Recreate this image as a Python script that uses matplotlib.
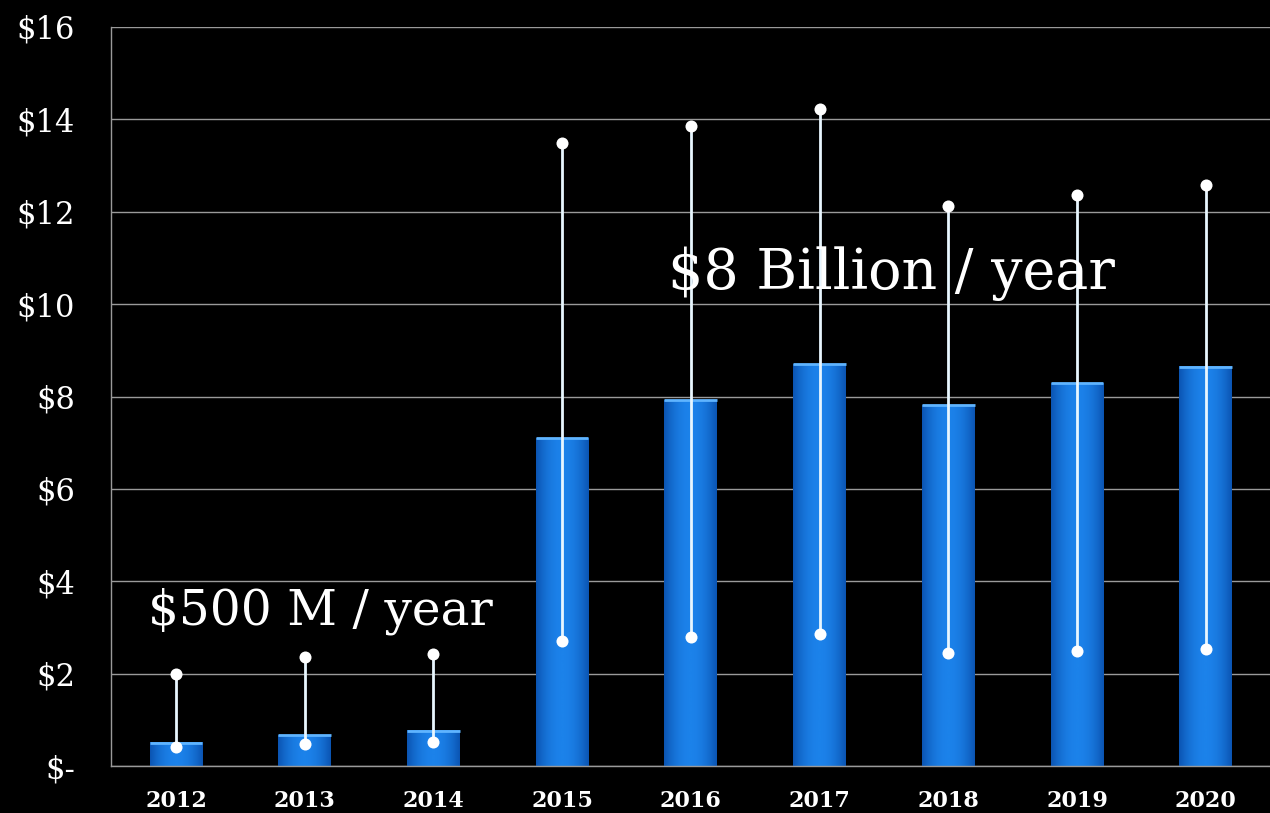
import matplotlib
matplotlib.use("Agg")
import matplotlib.pyplot as plt
import numpy as np

# data
years = ["2012", "2013", "2014", "2015", "2016", "2017", "2018", "2019", "2020"]
spend = [0.50, 0.67, 0.76, 7.10, 7.92, 8.70, 7.81, 8.29, 8.64]
low = [0.41, 0.48, 0.52, 2.71, 2.79, 2.86, 2.45, 2.49, 2.53]
high = [1.99, 2.36, 2.42, 13.48, 13.85, 14.22, 12.12, 12.36, 12.58]
yticks = [0, 2, 4, 6, 8, 10, 12, 14, 16]
ytick_labels = ["$-", "$2", "$4", "$6", "$8", "$10", "$12", "$14", "$16"]

SERIF = "DejaVu Serif"
GRID = "#9a9a9a"

fig = plt.figure(figsize=(12.7, 8.13), dpi=100, facecolor="black")
ax = fig.add_axes([0.0874, 0.0578, 0.9126, 0.909])
ax.set_facecolor("black")

x = np.arange(len(years))
bw = 0.41

# horizontal gradient for the bars: dark edges, bright centre
grad = np.linspace(-1, 1, 64)
grad = 1 - np.abs(grad) ** 2
cmap = matplotlib.colors.LinearSegmentedColormap.from_list("bar", ["#0b55b3", "#1c82ea"])
for xi, v in zip(x, spend):
    ax.imshow(grad[np.newaxis, :], extent=(xi - bw / 2, xi + bw / 2, 0, v),
              aspect="auto", cmap=cmap, vmin=0, vmax=1, zorder=2, interpolation="bilinear")
    # light cap on the top
    ax.plot([xi - bw / 2, xi + bw / 2], [v, v], color="#5fb4ff", lw=2, zorder=3,
            solid_capstyle="butt")

# range lines with dots
ax.vlines(x, low, high, color="#e8f6ff", lw=2, zorder=4)
ax.scatter(x, low, s=75, color="white", zorder=5, linewidths=0)
ax.scatter(x, high, s=75, color="white", zorder=5, linewidths=0)

ax.set_xlim(-0.505, 8.5)
ax.set_ylim(0, 16)
ax.set_yticks(yticks)
ax.set_yticklabels(ytick_labels, fontsize=22, family=SERIF, color="white")
ax.set_xticks(x)
ax.set_xticklabels(years, fontsize=16, family=SERIF, color="white", fontweight="bold")
ax.tick_params(axis="y", length=0, pad=26)
ax.tick_params(axis="x", length=0, pad=17)

ax.grid(axis="y", color=GRID, lw=1, zorder=0)
ax.set_axisbelow(True)
for side in ["top", "right"]:
    ax.spines[side].set_visible(False)
for side in ["left", "bottom"]:
    ax.spines[side].set_color(GRID)
    ax.spines[side].set_linewidth(1)

ax.text(-0.22, 3.35, "$500 M / year", fontsize=35, family=SERIF, color="white",
        ha="left", va="center", zorder=6)
ax.text(5.56, 10.65, "$8 Billion / year", fontsize=40, family=SERIF, color="white",
        ha="center", va="center", zorder=6)

fig.savefig("out.png", dpi=100, facecolor="black")
